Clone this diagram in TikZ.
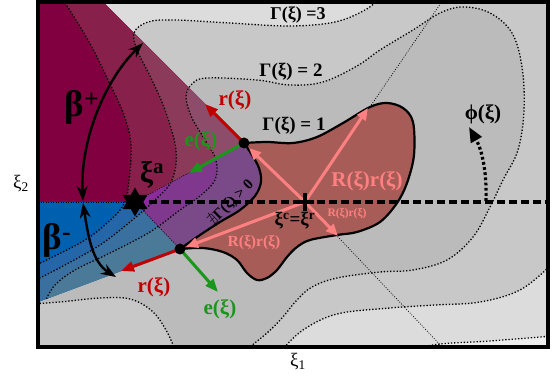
\documentclass[tikz,border=0pt]{standalone}
\usepackage{fontspec}
\usepackage{amssymb}
\setmainfont{Liberation Serif}
\usetikzlibrary{arrows.meta,shapes.geometric}
\definecolor{Lzero}{HTML}{DCDCDC}
\definecolor{Lone}{HTML}{C8C8C8}
\definecolor{Ltwo}{HTML}{BBBBBB}
\definecolor{Lcorner}{HTML}{ECECEC}
\definecolor{Rzero}{HTML}{800040}
\definecolor{Rone}{HTML}{87204A}
\definecolor{Rtwo}{HTML}{8B3A5A}
\definecolor{Rthree}{HTML}{8C4C6A}
\definecolor{Bzero}{HTML}{0060B0}
\definecolor{Bone}{HTML}{2566A8}
\definecolor{Btwo}{HTML}{3A70A0}
\definecolor{Bthree}{HTML}{4A7A98}
\definecolor{Pone}{HTML}{8A2C9C}
\definecolor{Ptwo}{HTML}{80388F}
\definecolor{Pthree}{HTML}{7A4A88}
\definecolor{blobc}{HTML}{A85C58}
\definecolor{pinkA}{HTML}{FF8080}
\definecolor{redA}{HTML}{C00000}
\definecolor{greenA}{HTML}{1A961A}
\tikzset{
 dotline/.style={line width=1.3pt, dash pattern=on 1.3pt off 1.9pt, black},
 thindot/.style={line width=0.7pt, dash pattern=on 0.9pt off 1.6pt, black},
 lbl/.style={inner sep=0pt, font=\bfseries},
 pinkarr/.style={draw=pinkA, line width=3pt, -{Triangle[length=12pt,width=10pt]}},
 redarr/.style={draw=redA, line width=3pt, -{Triangle[length=13pt,width=10pt]}},
 greenarr/.style={draw=greenA, line width=3pt, -{Triangle[length=13pt,width=10pt]}},
 barr/.style={line width=2.4pt, {Stealth[length=15pt,width=11pt]}-{Stealth[length=15pt,width=11pt]}},
 gfour/.style={insert path={-- plot[smooth,tension=0.6] coordinates {(60,-5) (88,40) (108,80) (124,115) (131,145) (129,180) (124,204) (106,224) (80,243) (30,268)}}},
 gthree/.style={insert path={-- plot[smooth,tension=0.6] coordinates {(380,-2) (365,10) (335,22) (290,26) (230,23) (175,20) (148,22) (134,33) (138,52) (150,76) (165,110) (176,150) (172,180) (155,200) (130,222) (100,245) (65,265) (30,283)}}},
 gtwo/.style={insert path={-- plot[smooth,tension=0.6] coordinates {(30,304) (60,302) (100,298) (130,299) (152,311) (166,330) (176,352)} -- (180,365) -- (240,365) -- plot[smooth,tension=0.6] coordinates {(246,350) (267,333) (282,318) (297,300) (312,287) (337,278) (380,272) (413,270) (447,260) (473,237) (490,207) (503,180) (518,150) (524,110) (522,67) (512,33) (490,13) (463,7) (440,13) (413,30) (380,50) (357,66) (323,82) (290,85) (257,80) (207,78) (192,84) (186,97) (192,118) (205,140) (216,160) (215,180) (200,196) (180,210) (150,232) (110,253) (75,270) (55,285) (46,300)}}},
 gthreelow/.style={insert path={-- plot[smooth,tension=0.6] coordinates {(282,350) (303,330) (337,314) (390,308) (435,305) (480,302) (520,290) (550,266)}}},
}
\begin{document}
\begin{tikzpicture}[x=1pt,y=-1pt]
\useasboundingbox (0,0) rectangle (554,379);
\fill[white] (0,0) rectangle (554,379);
\coordinate (T) at (244,143);
\coordinate (B) at (180,249);
\coordinate (s0) at (135,202);
\coordinate (C) at (305,202);
\coordinate (rayTopA) at (99,-2);
\coordinate (rayLowA) at (30,305);
\begin{scope}
\clip (38,2.5) rectangle (548,347);
\fill[Lzero] (30,-10) rectangle (560,360);
\fill[Lone] (560,-10) -- (380,-10) [gthree] -- (30,360) -- (282,360) [gthreelow] -- (560,260) -- cycle;
\fill[Ltwo] (30,304) [gtwo] -- cycle;
\fill[Lcorner] (410,360) -- plot[smooth,tension=0.6] coordinates {(410,350) (440,344) (490,341) (552,336)} -- (560,360) -- cycle;
% red cone
\begin{scope}
\clip (30,-5) -- (rayTopA) -- (T) -- (s0) -- (30,202) -- cycle;
\fill[Rzero] (0,-10) rectangle (400,400);
\fill[Rone] (600,-10) -- (60,-10) [gfour] -- (30,400) -- (600,400) -- cycle;
\fill[Rtwo] (600,-10) -- (380,-10) [gthree] -- (30,400) -- (600,400) -- cycle;
\fill[Rthree] (30,304) [gtwo] -- cycle;
\end{scope}
% blue cone
\begin{scope}
\clip (30,202) -- (s0) -- (B) -- (rayLowA) -- cycle;
\fill[Bzero] (0,-10) rectangle (400,400);
\fill[Bone] (600,-10) -- (60,-10) [gfour] -- (30,400) -- (600,400) -- cycle;
\fill[Btwo] (600,-10) -- (380,-10) [gthree] -- (30,400) -- (600,400) -- cycle;
\fill[Bthree] (30,304) [gtwo] -- cycle;
\end{scope}
% purple overlap
\begin{scope}
\clip (s0) -- (T) -- (275,160) -- (275,220) -- (B) -- cycle;
\fill[Pone] (0,-10) rectangle (400,400);
\fill[Ptwo] (600,-10) -- (380,-10) [gthree] -- (30,400) -- (600,400) -- cycle;
\fill[Pthree] (30,304) [gtwo] -- cycle;
\end{scope}
% contours
\draw[dotline] (380,-2) [gthree];
\draw[dotline] (282,350) [gthreelow];
\draw[dotline] (30,304) [gtwo];
\draw[dotline] (60,-5) [gfour];
\draw[dotline] plot[smooth,tension=0.6] coordinates {(410,350) (440,344) (490,341) (552,336)};
% thin rays and cone lines
\coordinate (rayTop) at (443,0);
\coordinate (rayBot) at (445,350);
\draw[thindot] (C) -- (rayTop);
\draw[thindot] (C) -- (rayBot);
\draw[thindot] (s0) -- (T);
\draw[thindot] (s0) -- (B);
\coordinate (leftEnd) at (38,202);
\draw[thindot] (leftEnd) -- (s0);
\end{scope}
% blob Gamma = 1
\filldraw[fill=blobc, draw=black, line width=2.2pt, line join=round] (T) -- plot[smooth,tension=0.55] coordinates {(244,143) (267,142) (293,143) (317,137) (343,123) (370,107) (387,103) (403,108) (413,122) (414,155) (407,183) (397,203) (380,222) (357,232) (337,235) (310,240) (297,247) (287,257) (277,270) (267,278) (257,280) (247,273) (237,260) (223,252) (203,248) (180,249)} -- plot[smooth,tension=0.55] coordinates {(180,249) (200,235) (220,222) (240,210) (255,196) (261,182) (259,168) (252,155) (244,143)} -- cycle;
% dashed axis
\coordinate (dashStart) at (149,202);
\coordinate (dashEnd) at (548,202);
\draw[line width=3.2pt, dash pattern=on 8pt off 4pt] (dashStart) -- (dashEnd);
% pink arrows
\coordinate (pT) at (249,148);
\coordinate (pTR) at (368,108);
\coordinate (pBR) at (338,236);
\coordinate (pB) at (186,247);
\draw[pinkarr] (C) -- (pT);
\draw[pinkarr] (C) -- (pTR);
\draw[pinkarr] (C) -- (pBR);
\draw[pinkarr] (C) -- (pB);
% r and e arrows
\coordinate (rT) at (205,104);
\coordinate (eT) at (189,173);
\coordinate (rB) at (121,271);
\coordinate (eB) at (218,292);
\draw[redarr] (T) -- (rT);
\draw[greenarr] (T) -- (eT);
\draw[redarr] (B) -- (rB);
\draw[greenarr] (B) -- (eB);
\node[circle, fill=black, minimum size=11pt, inner sep=0pt] (dotT) at (T) {};
\node[circle, fill=black, minimum size=11pt, inner sep=0pt] (dotB) at (B) {};
% star and cross
\node[star, star points=6, star point ratio=1.75, fill=black, minimum size=29pt, inner sep=0pt] (star) at (s0) {};
\coordinate (cxL) at (296,202);
\coordinate (cxR) at (314,202);
\coordinate (cxU) at (305,193);
\coordinate (cxD) at (305,211);
\draw[line width=3.6pt] (cxL) -- (cxR);
\draw[line width=3.6pt] (cxU) -- (cxD);
% beta arrows
\coordinate (bpA) at (83,201);
\coordinate (bpB) at (143,43);
\coordinate (bmA) at (83,203);
\coordinate (bmB) at (116,277);
\draw[barr] (bpA) .. controls (80,140) and (105,80) .. (bpB);
\draw[barr] (bmA) .. controls (88,235) and (92,262) .. (bmB);
% phi arrow
\coordinate (phA) at (486,201);
\coordinate (phB) at (469,127);
\draw[line width=3.2pt, dash pattern=on 2.8pt off 2.4pt, -{Triangle[length=15pt,width=12pt]}] (phA) .. controls (487,172) and (482,150) .. (phB);
% frame
\draw[line width=4pt] (38,2.5) rectangle (548,347);
% labels
\node[lbl, font=\bfseries\fontsize{18}{18}\selectfont] (lg3) at (298,15) {Γ(ξ) =3};
\node[lbl, font=\bfseries\fontsize{19}{19}\selectfont] (lg2) at (291,72) {Γ(ξ) = 2};
\node[lbl, font=\bfseries\fontsize{19}{19}\selectfont] (lg1) at (294,126) {Γ(ξ) = 1};
\node[lbl, text=redA, font=\bfseries\fontsize{21}{21}\selectfont] (lrT) at (235,100) {r(ξ)};
\node[lbl, text=greenA, font=\bfseries\fontsize{21}{21}\selectfont] (leT) at (201,141) {e(ξ)};
\node[lbl, text=redA, font=\bfseries\fontsize{21}{21}\selectfont] (lrB) at (154,287) {r(ξ)};
\node[lbl, text=greenA, font=\bfseries\fontsize{21}{21}\selectfont] (leB) at (220,309) {e(ξ)};
\node[lbl, font=\bfseries\fontsize{37}{37}\selectfont] (lbp) at (82,107) {β\textsuperscript{+}};
\node[lbl, font=\bfseries\fontsize{37}{37}\selectfont] (lbm) at (57,240) {β\textsuperscript{-}};
\node[lbl, font=\bfseries\fontsize{30}{30}\selectfont] (lxa) at (152,175) {ξ\textsuperscript{a}};
\node[lbl, rotate=45, font=\bfseries\fontsize{15}{15}\selectfont] (lnex) at (231,203) {$\nexists$Γ(ξ) > 0};
\node[lbl, font=\bfseries\fontsize{19}{19}\selectfont] (lxc) at (295,221) {ξ\textsuperscript{c}=ξ\textsuperscript{r}};
\node[lbl, text=pinkA, font=\bfseries\fontsize{21}{21}\selectfont] (lR1) at (367,181) {R(ξ)r(ξ)};
\node[lbl, text=pinkA, font=\bfseries\fontsize{11.5}{11.5}\selectfont] (lR2) at (347,214) {R(ξ)r(ξ)};
\node[lbl, text=pinkA, font=\bfseries\fontsize{15.5}{15.5}\selectfont] (lR3) at (254,243) {R(ξ)r(ξ)};
\node[lbl, font=\bfseries\fontsize{21}{21}\selectfont] (lphi) at (483,114) {ϕ(ξ)};
\node[lbl, font=\fontsize{19}{19}\selectfont] (lx1) at (298,362) {ξ\textsubscript{1}};
\node[lbl, font=\fontsize{19}{19}\selectfont] (lx2) at (21,184) {ξ\textsubscript{2}};
\end{tikzpicture}
\end{document}
